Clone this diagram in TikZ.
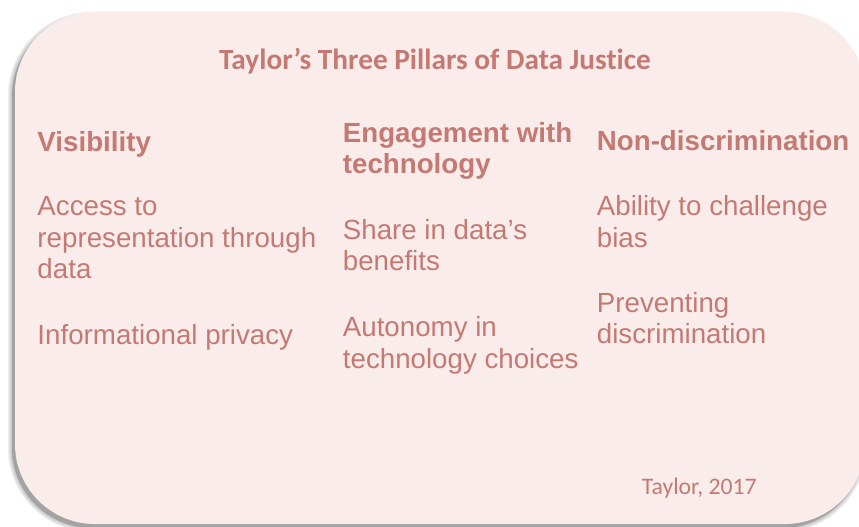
\documentclass[tikz,border=0pt]{standalone}
\usepackage{fontspec}
\setmainfont{Liberation Sans}
\newfontfamily\calibri[Ligatures=NoCommon]{Carlito}
\definecolor{txt}{RGB}{196,122,114}
\definecolor{cardbg}{RGB}{250,236,234}
\begin{document}
\begin{tikzpicture}[x=1bp,y=-1bp,
  head/.style={anchor=base west, inner sep=0pt, font=\fontsize{27.7bp}{31.6bp}\selectfont\bfseries, text=txt},
  body/.style={anchor=base west, inner sep=0pt, font=\fontsize{27.7bp}{31.6bp}\selectfont, text=txt},
  card/.style={rounded corners=80bp}]
\useasboundingbox (0,0) rectangle (859,527);
\begin{scope}
\clip (0,0) rectangle (859,527);
% shadow
\foreach \w in {1,2,...,9}{
  \draw[card, line width=\w bp, draw=black, opacity=0.028, xshift=-3bp, yshift=-4bp] (15,12) rectangle (865,524);
}
\fill[card, black!36, xshift=-3bp, yshift=-4bp] (15,12) rectangle (865,524);
% card
\fill[card, cardbg] (15,12) rectangle (865,524);
\end{scope}
% title
\node[anchor=base, inner sep=0pt, text=txt, font=\calibri\fontsize{29.3bp}{34bp}\selectfont\bfseries] (title) at (435,70) {Taylor’s Three Pillars of Data Justice};
% column 1
\node[head] (h1) at (37.3,151.7) {Visibility};
\node[body] (b11a) at (37.3,216) {Access to};
\node[body] (b11b) at (37.3,247.5) {representation through};
\node[body] (b11c) at (37.3,279) {data};
\node[body] (b12) at (37.3,344.3) {Informational privacy};
% column 2
\node[head] (h2a) at (342.7,142.7) {Engagement with};
\node[head] (h2b) at (342.7,174) {technology};
\node[body] (b21a) at (342.7,239.3) {Share in data’s};
\node[body] (b21b) at (342.7,271) {benefits};
\node[body] (b22a) at (342.7,336.7) {Autonomy in};
\node[body] (b22b) at (342.7,368.3) {technology choices};
% column 3
\node[head] (h3) at (596.7,150.7) {Non-discrimination};
\node[body] (b31a) at (596.7,216) {Ability to challenge};
\node[body] (b31b) at (596.7,247.5) {bias};
\node[body] (b32a) at (596.7,312.7) {Preventing};
\node[body] (b32b) at (596.7,343.3) {discrimination};
% source
\node[anchor=base west, inner sep=0pt, text=txt, font=\calibri\fontsize{23.7bp}{28bp}\selectfont] (src) at (641.7,494) {Taylor, 2017};
\end{tikzpicture}
\end{document}
